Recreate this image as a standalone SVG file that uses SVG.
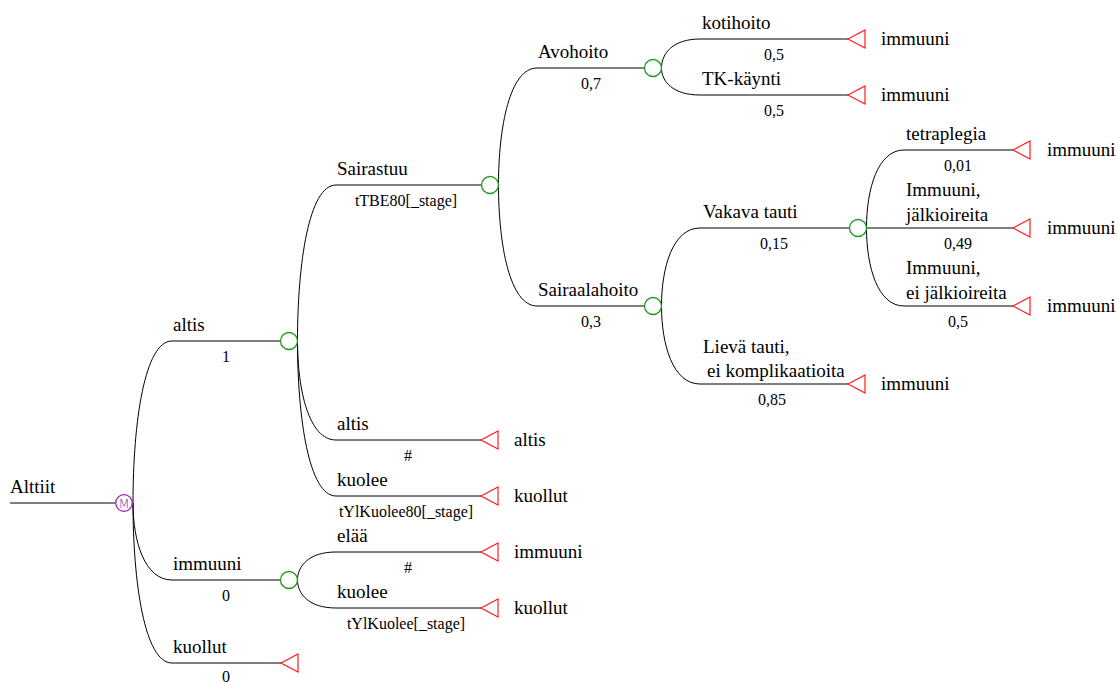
<svg xmlns="http://www.w3.org/2000/svg" width="1118" height="684" viewBox="0 0 1118 684">
<style>
.lbl{font-family:"Liberation Serif","Times New Roman",serif;font-size:19px;fill:#000}
.prob{font-family:"Liberation Serif","Times New Roman",serif;font-size:16px;fill:#000;text-anchor:middle}
.br{fill:none;stroke:#000;stroke-width:1}
.chance{fill:#fff;stroke:#1f9a1f;stroke-width:1.3}
.markov{fill:#fff;stroke:#a020b0;stroke-width:1.3}
.term{fill:#fff;stroke:#ff1a1a;stroke-width:1.2}
</style>
<rect width="1118" height="684" fill="#fff"/>
<g id="connectors">
<path class="br" d="M10,503 L115.5,503"/>
<path class="br" d="M133,503 C133,422 144.7,341 172,341 L280.5,341"/>
<path class="br" d="M133,503 C133,541.5 144.7,580 172,580 L280.5,580"/>
<path class="br" d="M133,503 C133,583 144.7,663 172,663 L281,663"/>
<path class="br" d="M297.5,341 C297.5,263 309,185 336,185 L481.5,185"/>
<path class="br" d="M297.5,341 C297.5,390.5 309,440 336,440 L481,440"/>
<path class="br" d="M297.5,341 C297.5,418.5 309,496 336,496 L481,496"/>
<path class="br" d="M297.5,580 C297.5,566 309,552 336,552 L481,552"/>
<path class="br" d="M297.5,580 C297.5,594 309,608 336,608 L481,608"/>
<path class="br" d="M498.5,185 C498.5,126.5 510,68 537,68 L644.5,68"/>
<path class="br" d="M498.5,185 C498.5,245.5 510,306 537,306 L644.5,306"/>
<path class="br" d="M661.5,68 C661.5,53.5 673,39 700,39 L848,39"/>
<path class="br" d="M661.5,68 C661.5,81.5 673,95 700,95 L848,95"/>
<path class="br" d="M661.5,306 C661.5,267 673,228 700,228 L849.5,228"/>
<path class="br" d="M661.5,306 C661.5,345 673,384 700,384 L848,384"/>
<path class="br" d="M866.5,228 C866.5,189 877.8,150 904,150 L1013,150"/>
<path class="br" d="M866.5,228 L1013,228"/>
<path class="br" d="M866.5,228 C866.5,267 877.8,306 904,306 L1013,306"/>
</g>
<g id="branch-labels">
<text class="lbl" x="10" y="493">Alttiit</text>
<text class="lbl" x="173" y="331">altis</text><text class="prob" x="226" y="362">1</text>
<text class="lbl" x="173" y="570">immuuni</text><text class="prob" x="226" y="601">0</text>
<text class="lbl" x="173" y="653">kuollut</text><text class="prob" x="226" y="682">0</text>
<text class="lbl" x="337" y="175">Sairastuu</text><text class="prob" x="406" y="206">tTBE80[_stage]</text>
<text class="lbl" x="337" y="430">altis</text><text class="prob" x="408" y="461">#</text>
<text class="lbl" x="337" y="486">kuolee</text><text class="prob" x="406" y="517">tYlKuolee80[_stage]</text>
<text class="lbl" x="337" y="542">elää</text><text class="prob" x="408" y="573">#</text>
<text class="lbl" x="337" y="598">kuolee</text><text class="prob" x="406" y="629">tYlKuolee[_stage]</text>
<text class="lbl" x="538" y="58">Avohoito</text><text class="prob" x="591" y="89">0,7</text>
<text class="lbl" x="538" y="296">Sairaalahoito</text><text class="prob" x="591" y="327">0,3</text>
<text class="lbl" x="702" y="29">kotihoito</text><text class="prob" x="774" y="60">0,5</text>
<text class="lbl" x="702" y="85">TK-käynti</text><text class="prob" x="774" y="116">0,5</text>
<text class="lbl" x="703" y="218">Vakava tauti</text><text class="prob" x="774" y="249">0,15</text>
<text class="lbl" x="703" y="353">Lievä tauti,</text><text class="lbl" x="707" y="377">ei komplikaatioita</text><text class="prob" x="772" y="405">0,85</text>
<text class="lbl" x="906" y="140">tetraplegia</text><text class="prob" x="958" y="171">0,01</text>
<text class="lbl" x="906" y="196">Immuuni,</text><text class="lbl" x="906" y="221">jälkioireita</text><text class="prob" x="958" y="249">0,49</text>
<text class="lbl" x="906" y="274">Immuuni,</text><text class="lbl" x="906" y="299">ei jälkioireita</text><text class="prob" x="958" y="327">0,5</text>
</g>
<g id="node-alttiit">
<circle class="markov" cx="124" cy="503" r="8.3"/>
<text x="124" y="508" text-anchor="middle" font-family="DejaVu Sans, sans-serif" font-size="13" font-weight="200" fill="#a020b0">M</text>
</g>
<g id="node-altis"><circle class="chance" cx="289" cy="341" r="8.5"/></g>
<g id="node-immuuni"><circle class="chance" cx="289" cy="580" r="8.5"/></g>
<g id="node-sairastuu"><circle class="chance" cx="490" cy="185" r="8.5"/></g>
<g id="node-avohoito"><circle class="chance" cx="653" cy="68" r="8.5"/></g>
<g id="node-sairaalahoito"><circle class="chance" cx="653" cy="306" r="8.5"/></g>
<g id="node-vakava"><circle class="chance" cx="858" cy="228" r="8.5"/></g>
<g id="term-kotihoito"><polygon class="term" points="848,39 865,30 865,48"/><text class="lbl" x="881" y="45">immuuni</text></g>
<g id="term-tk"><polygon class="term" points="848,95 865,86 865,104"/><text class="lbl" x="881" y="101">immuuni</text></g>
<g id="term-tetra"><polygon class="term" points="1013,150 1030,141 1030,159"/><text class="lbl" x="1047" y="156">immuuni</text></g>
<g id="term-jalk"><polygon class="term" points="1013,228 1030,219 1030,237"/><text class="lbl" x="1047" y="234">immuuni</text></g>
<g id="term-eijalk"><polygon class="term" points="1013,306 1030,297 1030,315"/><text class="lbl" x="1047" y="312">immuuni</text></g>
<g id="term-lieva"><polygon class="term" points="848,384 865,375 865,393"/><text class="lbl" x="881" y="390">immuuni</text></g>
<g id="term-altis"><polygon class="term" points="481,440 498,431 498,449"/><text class="lbl" x="514" y="446">altis</text></g>
<g id="term-kuolee1"><polygon class="term" points="481,496 498,487 498,505"/><text class="lbl" x="514" y="502">kuollut</text></g>
<g id="term-elaa"><polygon class="term" points="481,552 498,543 498,561"/><text class="lbl" x="514" y="558">immuuni</text></g>
<g id="term-kuolee2"><polygon class="term" points="481,608 498,599 498,617"/><text class="lbl" x="514" y="614">kuollut</text></g>
<g id="term-kuollut"><polygon class="term" points="281,663 298,654 298,672"/></g>
</svg>
